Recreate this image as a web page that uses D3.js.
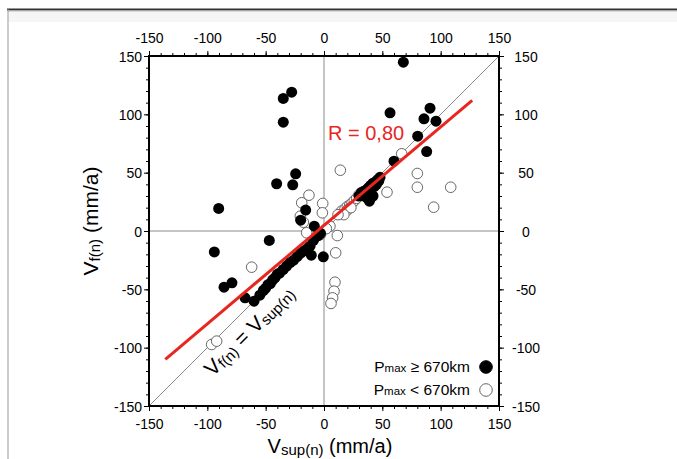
<!DOCTYPE html>
<html><head><meta charset="utf-8">
<script src="https://cdn.jsdelivr.net/npm/d3@7"></script>
<style>
body{margin:0;background:#fff;}
svg{display:block;font-family:"Liberation Sans",Arial,Helvetica,sans-serif;}
</style></head><body>
<svg id="c" width="677" height="459"></svg>
<script>
// ---- data ----
const majorTicks = [-150,-100,-50,0,50,100,150];
const tickLabels = ["-150","-100","-50","0","50","100","150"];
const filledPts = [
 [-27.7,119],[-34.9,113.6],[-34.9,93.3],[-24.3,49],[-40.6,40.5],[-26.8,39.6],[-90.3,19.3],
 [-15.7,17.9],[-20,9.3],[-8.3,4.1],
 [68,144.7],[56.6,101.3],[90.9,105.3],[85.7,96.2],[96,94.1],[80.3,81.3],[88,68.1],[60,59.8],
 [30,30],[32,33],[34,34],[36,35],[38,37],[40,39],[42,41],[44,42],[46,44],[48,46],[43,38],[45,40],
 [40,33],[38.9,25.6],[36,29],[42,30],[47,43],
 [-94,-17.9],[-46.9,-8.1],[-85.7,-48.2],[-78.9,-44.4],[-67.7,-57.3],[-60,-60.2],[-0.6,-22.1],[-10.9,-20.7],
 [-55,-55],[-52,-51],[-50,-49],[-48,-46],[-46,-45],[-44,-42],[-42,-40],[-40,-37],[-38,-36],[-35,-33],
 [-32,-30],[-29,-27],[-26,-25],[-23,-22],[-20,-19],[-17,-17],[-14,-15],[-12,-13],[-9,-8],[-5,-4],[-3,-2]
];
const openPts = [
 [-12.9,30.7],[-19.1,24.2],[-1.1,23.6],[-1.4,15.6],[-20.3,12.7],[-17.7,7.5],
 [66.6,66.2],[14,52.1],[80,49.3],[80,37.5],[108.6,37.5],[54,33.3],[94,20.4],
 [5.1,4.1],[-62,-31],[-96.3,-97.3],[-92,-94.4],[-14.9,-1.5],[-6.3,-4.4],
 [11.4,-3.9],[10,-18.7],[9.4,-43.9],[8.6,-51.6],[7.4,-57.3],[6,-62.1],
 [15,17],[18,19],[20,21],[22,22],[24,24],[26,26],[28,28],[20,18],[23,20],[30,31],[17,14],[12,14],[2,2],[-3,-3]
];
const fitLine = [[-136,-110],[127,112]];
const rLabel = "R = 0,80";

// ---- chart ----
const svg = d3.select("#c");
const x = d3.scaleLinear().domain([-150,150]).range([149,499]);
const y = d3.scaleLinear().domain([-150,150]).range([406,56]);
const minor = d3.range(-150,151,10);

// page frame
svg.append("rect").attr("x",8).attr("y",10).attr("width",669).attr("height",12).attr("fill","#f6f6f6");
svg.append("line").attr("x1",7).attr("x2",677).attr("y1",9.5).attr("y2",9.5).attr("stroke","#333").attr("stroke-width",2);
svg.append("line").attr("x1",8).attr("x2",677).attr("y1",11).attr("y2",11).attr("stroke","#bbb").attr("stroke-width",1);
svg.append("line").attr("x1",8).attr("x2",8).attr("y1",9).attr("y2",459).attr("stroke","#999").attr("stroke-width",1);

// zero lines & diagonal
svg.append("line").attr("x1",x(0)).attr("x2",x(0)).attr("y1",y(150)).attr("y2",y(-150)).attr("stroke","#8c8c8c").attr("stroke-width",1);
svg.append("line").attr("x1",x(-150)).attr("x2",x(150)).attr("y1",y(0)).attr("y2",y(0)).attr("stroke","#8c8c8c").attr("stroke-width",1);
svg.append("line").attr("x1",x(-150)).attr("x2",x(150)).attr("y1",y(-150)).attr("y2",y(150)).attr("stroke","#8c8c8c").attr("stroke-width",1);

// points
svg.append("g").selectAll("circle").data(openPts).join("circle")
 .attr("cx",d=>x(d[0])).attr("cy",d=>y(d[1])).attr("r",5.3)
 .attr("fill","#fff").attr("stroke","#666").attr("stroke-width",1);
svg.append("g").selectAll("circle").data(filledPts).join("circle")
 .attr("cx",d=>x(d[0])).attr("cy",d=>y(d[1])).attr("r",5.5)
 .attr("fill","#000");

// regression line
svg.append("line").attr("x1",x(fitLine[0][0])).attr("y1",y(fitLine[0][1]))
 .attr("x2",x(fitLine[1][0])).attr("y2",y(fitLine[1][1]))
 .attr("stroke","#e8261f").attr("stroke-width",3);
svg.append("text").attr("x",328).attr("y",140).attr("font-size",20).attr("fill","#e8261f").text(rLabel);

// axes
const fmt = (d)=>tickLabels[majorTicks.indexOf(d)];
function ax(gen, tr){
  const gm = svg.append("g").attr("transform",tr).call(gen.tickValues(minor).tickSize(3).tickFormat(""));
  gm.select(".domain").remove();
  gm.selectAll("line").attr("stroke","#000").attr("stroke-width",1);
  const g = svg.append("g").attr("transform",tr).call(gen.tickValues(majorTicks).tickSize(5).tickFormat(fmt));
  g.select(".domain").remove();
  g.selectAll("line").attr("stroke","#000").attr("stroke-width",1);
  g.selectAll("text").attr("font-size",14).attr("font-family","Liberation Sans, Arial, sans-serif").attr("fill","#000");
  return g;
}
const gb = ax(d3.axisBottom(x), `translate(0,${y(-150)})`);
gb.selectAll("text").attr("y",23).attr("dy",null);
const gt = ax(d3.axisTop(x), `translate(0,${y(150)})`);
gt.selectAll("text").attr("y",-13).attr("dy",null);
const gl = ax(d3.axisLeft(y), `translate(${x(-150)},0)`);
gl.selectAll("text").attr("x",-7).attr("dy","0.36em");
const gr = ax(d3.axisRight(y), `translate(${x(150)},0)`);
gr.selectAll("text").attr("x",27).attr("dy","0.36em").attr("text-anchor","middle");

// plot frame
svg.append("rect").attr("x",x(-150)).attr("y",y(150)).attr("width",x(150)-x(-150)).attr("height",y(-150)-y(150))
 .attr("fill","none").attr("stroke","#000").attr("stroke-width",2);

// axis titles
const xt = svg.append("text").attr("x",330).attr("y",453).attr("text-anchor","middle").attr("font-size",20);
xt.append("tspan").text("V");
xt.append("tspan").attr("font-size",15).attr("dy",2).text("sup(n)");
xt.append("tspan").attr("dy",-2).text(" (mm/a)");

const yt = svg.append("text").attr("transform","translate(98,221) rotate(-90)").attr("text-anchor","middle").attr("font-size",21);
yt.append("tspan").text("V");
yt.append("tspan").attr("font-size",15).attr("dy",2).text("f(n)");
yt.append("tspan").attr("dy",-2).text(" (mm/a)");

// diagonal label
const dl = svg.append("text").attr("transform","translate(254,336) rotate(-45)").attr("text-anchor","middle").attr("font-size",21);
dl.append("tspan").text("V");
dl.append("tspan").attr("font-size",15).attr("dy",2).text("f(n)");
dl.append("tspan").attr("dy",-2).text(" = V");
dl.append("tspan").attr("font-size",15).attr("dy",2).text("sup(n)");

// legend
const legendRows = [{label:" \u2265 670km", filled:true},{label:" < 670km", filled:false}];
legendRows.forEach((r,i)=>{
  const yy = 372 + i*23;
  const t = svg.append("text").attr("x",470).attr("y",yy).attr("text-anchor","end").attr("font-size",15.5);
  t.append("tspan").text("P");
  t.append("tspan").attr("font-size",11.5).text("max");
  t.append("tspan").text(r.label);
  svg.append("circle").attr("cx",486).attr("cy",yy-5).attr("r",6.3)
   .attr("fill",r.filled?"#000":"#fff").attr("stroke",r.filled?"#000":"#666").attr("stroke-width",1);
});
</script>
</body></html>
